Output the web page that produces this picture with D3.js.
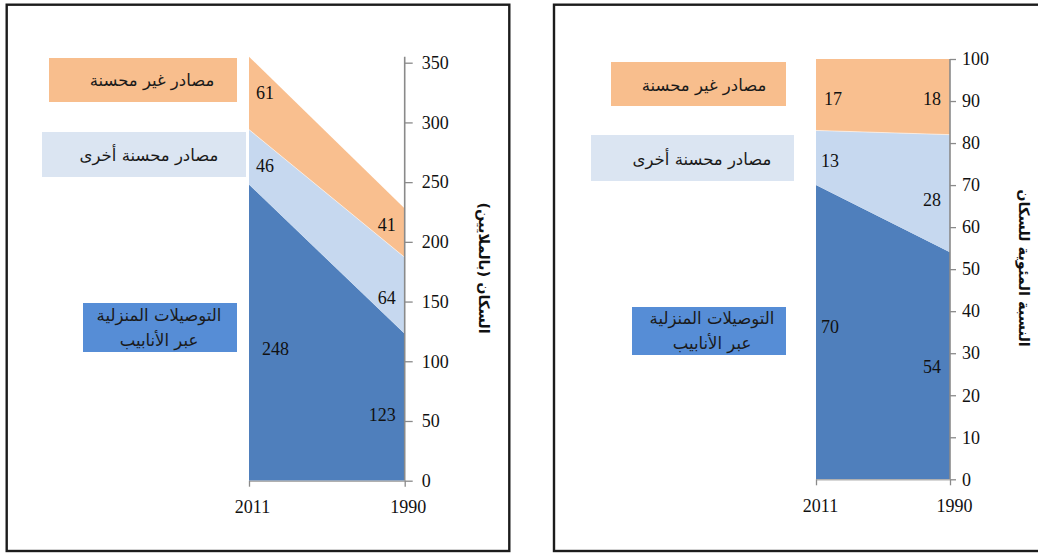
<!DOCTYPE html>
<html lang="ar">
<head>
<meta charset="utf-8">
<script src="https://cdn.jsdelivr.net/npm/d3@7"></script>
<style>
  html, body { margin: 0; padding: 0; background: #ffffff; }
  svg { display: block; }
  .num { font-family: "Liberation Serif", "Times New Roman", serif; font-size: 18px; fill: #111; }
  .ar  { font-family: "DejaVu Sans", "Noto Sans", sans-serif; font-size: 16.5px; fill: #1a1a1a; }
  .title { font-family: "DejaVu Sans", "Noto Sans", sans-serif; font-size: 14.5px; font-weight: bold; fill: #111; }
</style>
</head>
<body>
<svg id="chart" width="1038" height="554"></svg>
<script>
// Years along the x axis (the later year drawn first, on the left)
const years = ["2011", "1990"];

// Series names, bottom layer first
const seriesNames = ["التوصيلات المنزلية عبر الأنابيب", "مصادر محسنة أخرى", "مصادر غير محسنة"];
const legendLines = [["التوصيلات المنزلية", "عبر الأنابيب"], ["مصادر محسنة أخرى"], ["مصادر غير محسنة"]];

// Population served, in millions
const millionsPiped = [248, 123];
const millionsOther = [46, 64];
const millionsUnimproved = [61, 41];

// Share of population, in percent
const percentPiped = [70, 54];
const percentOther = [13, 28];
const percentUnimproved = [17, 18];

// Axis ticks
const millionsTicks = [0, 50, 100, 150, 200, 250, 300, 350];
const percentTicks = [0, 10, 20, 30, 40, 50, 60, 70, 80, 90, 100];

const layerFill = ["#4f7fbc", "#c6d8ef", "#f9bf8f"];
const legendFill = ["#568dd6", "#dbe5f2", "#f8be8d"];

const svg = d3.select("#chart");

function panel(cfg) {
  const g = svg.append("g");

  // frame
  g.append("rect")
    .attr("x", cfg.frame[0]).attr("y", cfg.frame[1])
    .attr("width", cfg.frame[2]).attr("height", cfg.frame[3])
    .attr("fill", "none").attr("stroke", "#1c1c1c").attr("stroke-width", 2.4);

  const x = d3.scalePoint().domain(years).range(cfg.xRange);
  const y = d3.scaleLinear().domain([0, cfg.ticks[cfg.ticks.length - 1]]).range(cfg.yRange);

  const rows = years.map((yr, i) => ({ year: yr, s0: cfg.series[0][i], s1: cfg.series[1][i], s2: cfg.series[2][i] }));
  const stack = d3.stack().keys(["s0", "s1", "s2"]);
  const layers = stack(rows);

  const area = d3.area()
    .x(d => x(d.data.year))
    .y0(d => y(d[0]))
    .y1(d => y(d[1]));

  g.selectAll("path.layer").data(layers).join("path")
    .attr("class", "layer")
    .attr("d", area)
    .attr("fill", (d, i) => layerFill[i]);

  // thin light seam along the top of the middle layer
  const seam = d3.line().x(d => x(d.data.year)).y(d => y(d[1]));
  g.append("path").attr("d", seam(layers[1]))
    .attr("fill", "none").attr("stroke", "#ffffff").attr("stroke-opacity", 0.55).attr("stroke-width", 1);

  // value labels
  layers.forEach((layer, li) => {
    layer.forEach((d, pi) => {
      const v = d[1] - d[0];
      const first = pi === 0;
      const nudge = cfg.labelNudge[li][pi];
      g.append("text").attr("class", "num")
        .attr("x", x(d.data.year) + (first ? cfg.labelInset[0] + nudge[0] : -cfg.labelInset[1] + nudge[0]))
        .attr("y", y((d[0] + d[1]) / 2) + nudge[1])
        .attr("dy", "0.35em")
        .attr("text-anchor", first ? "start" : "end")
        .text(v);
    });
  });

  // y axis on the right
  const axisX = x(years[1]);
  const yAxis = d3.axisRight(y).tickValues(cfg.ticks).tickSize(cfg.tickLen).tickSizeOuter(0).tickPadding(cfg.tickPad);
  const ya = g.append("g").attr("transform", `translate(${axisX},0)`).call(yAxis);
  ya.select(".domain").remove();
  ya.selectAll(".tick line").attr("stroke", "#8a8a8a").attr("stroke-width", 1.3);
  ya.selectAll(".tick text").attr("class", "num").attr("fill", "#111");
  const maxTotal = d3.max(layers[2], d => d[1]);
  g.append("line")
    .attr("x1", axisX).attr("x2", axisX)
    .attr("y1", y(0)).attr("y2", y(Math.max(maxTotal, cfg.ticks[cfg.ticks.length - 1])))
    .attr("stroke", "#8a8a8a").attr("stroke-width", 1.6);

  // x axis
  const xAxis = d3.axisBottom(x).tickSize(6).tickSizeOuter(0).tickPadding(14);
  const xa = g.append("g").attr("transform", `translate(0,${y(0)})`).call(xAxis);
  xa.select(".domain").attr("stroke", "#b0b0b0").attr("stroke-width", 1.4);
  xa.selectAll(".tick line").attr("stroke", "#8a8a8a").attr("stroke-width", 1.3);
  xa.selectAll(".tick text").attr("class", "num").attr("fill", "#111").attr("dx", cfg.xLabelDx);

  // legend boxes
  cfg.legend.forEach((b, i) => {
    g.append("rect").attr("x", b.box[0]).attr("y", b.box[1]).attr("width", b.box[2]).attr("height", b.box[3])
      .attr("fill", legendFill[i]);
    const lines = legendLines[i];
    lines.forEach((ln, k) => {
      g.append("text").attr("class", "ar")
        .attr("x", b.text[0])
        .attr("y", b.text[1] + k * 25)
        .attr("dy", "0.35em")
        .attr("text-anchor", "middle")
        .attr("direction", "rtl")
        .text(ln);
    });
  });

  // axis title, rotated
  g.append("text").attr("class", "title")
    .attr("transform", `translate(${cfg.title[0]},${cfg.title[1]}) rotate(90)`)
    .attr("text-anchor", "middle")
    .attr("dy", "0.35em")
    .attr("direction", "rtl")
    .text(cfg.titleText);
}

panel({
  frame: [6.7, 4.7, 502.6, 546.3],
  xRange: [249, 404.7],
  yRange: [480.7, 62.7],
  ticks: millionsTicks,
  series: [millionsPiped, millionsOther, millionsUnimproved],
  tickLen: 8, tickPad: 9,
  xLabelDx: 3,
  labelInset: [7, 9],
  labelNudge: [[[6, 16], [0, 7]], [[0, 9], [0, 2]], [[0, 0], [0, -8]]],
  legend: [
    { box: [83, 303, 154, 49], text: [159, 315] },
    { box: [42, 132, 204, 45], text: [149, 155] },
    { box: [49, 58, 188, 44], text: [152, 80] }
  ],
  title: [484, 268],
  titleText: "السكان (بالملايين)"
});

panel({
  frame: [554, 4.7, 500, 546.3],
  xRange: [816, 950],
  yRange: [479.3, 59],
  ticks: percentTicks,
  series: [percentPiped, percentOther, percentUnimproved],
  tickLen: 6, tickPad: 6,
  xLabelDx: 4,
  labelInset: [5, 9],
  labelNudge: [[[0, -5], [0, 1]], [[0, 3], [0, 6]], [[3, 4], [0, 2]]],
  legend: [
    { box: [632, 307, 154, 48], text: [712, 318] },
    { box: [591, 135, 203, 46], text: [702, 159] },
    { box: [611, 62, 175, 44], text: [704, 85] }
  ],
  title: [1024, 268],
  titleText: "النسبة المئوية للسكان"
});
</script>
</body>
</html>
